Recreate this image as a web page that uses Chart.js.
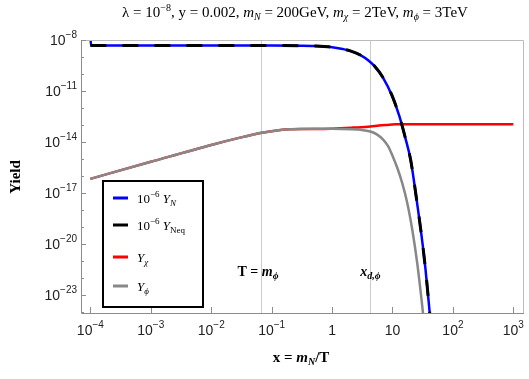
<!DOCTYPE html>
<html>
<head>
<meta charset="utf-8">
<script src="https://cdn.jsdelivr.net/npm/chart.js@4.4.1/dist/chart.umd.min.js"></script>
<style>
html, body { margin: 0; padding: 0; background: #fff; }
</style>
</head>
<body>
<canvas id="myChart" width="529" height="379"></canvas>
<script>
// 10^-6 Y_N (blue) and 10^-6 Y_Neq (black dashed)
var xN = [1e-4, 1.03e-4, 1e-3, 1e-2, 0.1, 0.3, 0.5, 1, 1.5, 2, 3, 4, 5, 7, 10, 13, 16, 20, 25, 30, 35, 40, 45];
var yN = [1.58e-8, 4.68e-9, 4.68e-9, 4.68e-9, 4.68e-9, 4.62e-9, 4.47e-9, 3.80e-9, 2.95e-9, 2.29e-9, 1.26e-9,
          6.31e-10, 3.02e-10, 6.03e-11, 4.68e-12, 3.31e-13, 2.29e-14, 8.91e-16, 4.47e-18, 3.98e-20, 3.98e-22, 3.16e-24, 3.16e-26];
var xNeq = [1e-4, 1e-3, 1e-2, 0.1, 0.3, 0.5, 1, 1.5, 2, 3, 4, 5, 7, 10, 13, 16, 20, 25, 30, 35, 40, 45];
var yNeq = [4.68e-9, 4.68e-9, 4.68e-9, 4.68e-9, 4.62e-9, 4.47e-9, 3.80e-9, 2.95e-9, 2.29e-9, 1.26e-9,
            6.31e-10, 3.02e-10, 6.03e-11, 4.68e-12, 3.31e-13, 2.29e-14, 8.91e-16, 4.47e-18, 3.98e-20, 3.98e-22, 3.16e-24, 3.16e-26];
// Y_chi (red)
var xChi = [1e-4, 1e-3, 1e-2, 0.03, 0.065, 0.1, 0.14, 0.2, 0.3, 0.64, 1, 2.2, 4.3, 6, 8.2, 11, 13.5, 20, 100, 1000];
var yChi = [6.92e-17, 6.92e-16, 6.76e-15, 1.82e-14, 3.39e-14, 4.37e-14, 5.13e-14, 5.62e-14, 5.89e-14, 5.89e-14,
            6.17e-14, 7.08e-14, 8.13e-14, 9.33e-14, 1.02e-13, 1.10e-13, 1.12e-13, 1.12e-13, 1.12e-13, 1.12e-13];
// Y_phi (gray)
var xPhi = [1e-4, 1e-3, 1e-2, 0.03, 0.065, 0.1, 0.14, 0.2, 0.3, 0.5, 1, 2, 3, 4.3, 5.5, 7, 8.5, 10, 12, 14.5, 17.6, 21.3, 25.7, 31, 35];
var yPhi = [6.92e-17, 6.92e-16, 6.76e-15, 1.82e-14, 3.39e-14, 4.37e-14, 5.13e-14, 5.62e-14, 5.89e-14, 6.03e-14,
            6.03e-14, 5.75e-14, 5.25e-14, 4.17e-14, 2.82e-14, 1.41e-14, 5.62e-15, 1.58e-15, 3.09e-16, 3.89e-17,
            2.57e-18, 6.76e-20, 7.41e-22, 2.51e-24, 3.98e-26];

// axis ticks (powers of ten) and marker lines
var xTickExps = [-4, -3, -2, -1, 0, 1, 2, 3];
var yTickExps = [-8, -11, -14, -17, -20, -23];
var yMinorExps = [-9, -10, -12, -13, -15, -16, -18, -19, -21, -22, -24];
var xMarkers = [200 / 3000, 4.3];

var SERIF = '"Liberation Serif", "Times New Roman", serif';
var SANS = '"Liberation Sans", Arial, sans-serif';

function pts(xs, ys) {
	return xs.map(function(x, i) { return { x: x, y: ys[i] }; });
}

// draw text made of pieces: [text, font, dy]
function rich(ctx, parts, x, y, align) {
	var w = 0;
	parts.forEach(function(p) { ctx.font = p[1]; w += ctx.measureText(p[0]).width; });
	var cx = align === 'center' ? x - w / 2 : (align === 'right' ? x - w : x);
	parts.forEach(function(p) {
		ctx.font = p[1];
		ctx.fillText(p[0], cx, y + (p[2] || 0));
		cx += ctx.measureText(p[0]).width;
	});
}

function powLabel(e) {
	if (e === 0) return [['1', '14px ' + SANS, 0]];
	if (e === 1) return [['10', '14px ' + SANS, 0]];
	return [['10', '14px ' + SANS, 0], [String(e).replace('-', '\u2212'), '10px ' + SANS, -7]];
}

var decor = {
	id: 'decor',
	beforeDatasetsDraw: function(chart) {
		var ctx = chart.ctx, a = chart.chartArea, xs = chart.scales.x;
		ctx.save();
		ctx.strokeStyle = '#cccccc';
		ctx.lineWidth = 1;
		xMarkers.forEach(function(v) {
			var px = Math.round(xs.getPixelForValue(v)) + 0.5;
			ctx.beginPath(); ctx.moveTo(px, a.top); ctx.lineTo(px, a.bottom); ctx.stroke();
		});
		ctx.restore();
	},
	afterDraw: function(chart) {
		var ctx = chart.ctx, a = chart.chartArea, xs = chart.scales.x, ys = chart.scales.y;
		ctx.save();
		// frame
		ctx.lineWidth = 1;
		ctx.strokeStyle = '#bbbbbb';
		ctx.beginPath();
		ctx.moveTo(a.left, a.top + 0.5); ctx.lineTo(a.right + 0.5, a.top + 0.5); ctx.lineTo(a.right + 0.5, a.bottom);
		ctx.stroke();
		ctx.strokeStyle = '#8c8c8c';
		ctx.beginPath();
		ctx.moveTo(a.left + 0.5, a.top); ctx.lineTo(a.left + 0.5, a.bottom + 0.5); ctx.lineTo(a.right + 1, a.bottom + 0.5);
		ctx.stroke();
		// ticks
		ctx.beginPath();
		xTickExps.forEach(function(e) {
			var px = Math.round(xs.getPixelForValue(Math.pow(10, e))) + 0.5;
			ctx.moveTo(px, a.bottom); ctx.lineTo(px, a.bottom - 6);
		});
		yTickExps.forEach(function(e) {
			var py = Math.round(ys.getPixelForValue(Math.pow(10, e))) + 0.5;
			ctx.moveTo(a.left, py); ctx.lineTo(a.left + 5, py);
		});
		yMinorExps.forEach(function(e) {
			var py = Math.round(ys.getPixelForValue(Math.pow(10, e))) + 0.5;
			ctx.moveTo(a.left, py); ctx.lineTo(a.left + 3, py);
		});
		ctx.stroke();

		// tick labels
		ctx.fillStyle = '#222';
		ctx.textBaseline = 'alphabetic';
		xTickExps.forEach(function(e) {
			rich(ctx, powLabel(e), xs.getPixelForValue(Math.pow(10, e)), a.bottom + 22, 'center');
		});
		yTickExps.forEach(function(e) {
			rich(ctx, powLabel(e), a.left - 4, ys.getPixelForValue(Math.pow(10, e)) + 5, 'right');
		});

		// title
		ctx.fillStyle = '#000';
		var R = '15px ' + SERIF, I = 'italic 15px ' + SERIF, S = '10px ' + SERIF, SI = 'italic 10px ' + SERIF;
		rich(ctx, [
			['\u03bb = 10', R], ['\u22128', S, -6], [', y = 0.002, ', R],
			['m', I], ['N', SI, 3], [' = 200GeV, ', R],
			['m', I], ['\u03c7', SI, 3], [' = 2TeV, ', R],
			['m', I], ['\u03d5', SI, 3], [' = 3TeV', R]
		], 295, 17, 'center');

		// axis titles
		var B = 'bold 15px ' + SERIF, BI = 'bold italic 15px ' + SERIF, BSI = 'bold italic 10px ' + SERIF;
		rich(ctx, [['x = ', B], ['m', BI], ['N', BSI, 3], ['/T', B]], 301, 362, 'center');
		ctx.save();
		ctx.translate(20, 177);
		ctx.rotate(-Math.PI / 2);
		rich(ctx, [['Yield', B]], 0, 0, 'center');
		ctx.restore();

		// annotations at the marker lines
		var AB = 'bold 14px ' + SERIF, ABI = 'bold italic 14px ' + SERIF, ASI = 'bold italic 10px ' + SERIF;
		var ay = ys.getPixelForValue(Math.pow(10, -21.9));
		rich(ctx, [['T = ', AB], ['m', ABI], ['\u03d5', ASI, 3]], xs.getPixelForValue(xMarkers[0]) - 3, ay, 'center');
		rich(ctx, [['x', ABI], ['d,\u03d5', ASI, 3]], xs.getPixelForValue(xMarkers[1]), ay, 'center');

		// legend
		var lx = 103, ly = 181, lw = 100, lh = 126;
		ctx.fillStyle = '#fff';
		ctx.fillRect(lx, ly, lw, lh);
		ctx.strokeStyle = '#000';
		ctx.lineWidth = 2;
		ctx.strokeRect(lx, ly, lw, lh);
		var rows = [
			{ c: '#0000ff', y: 198, t: [['10', '13px ' + SERIF], ['\u22126', '9px ' + SERIF, -6], [' Y', 'italic 13px ' + SERIF], ['N', 'italic 9px ' + SERIF, 3]] },
			{ c: '#000000', y: 225, t: [['10', '13px ' + SERIF], ['\u22126', '9px ' + SERIF, -6], [' Y', 'italic 13px ' + SERIF], ['Neq', '9px ' + SERIF, 3]] },
			{ c: '#ff0000', y: 257, t: [['Y', 'italic 13px ' + SERIF], ['\u03c7', 'italic 9px ' + SERIF, 3]] },
			{ c: '#888888', y: 286, t: [['Y', 'italic 13px ' + SERIF], ['\u03d5', 'italic 9px ' + SERIF, 3]] }
		];
		rows.forEach(function(r) {
			ctx.strokeStyle = r.c;
			ctx.lineWidth = 3;
			ctx.beginPath(); ctx.moveTo(113, r.y); ctx.lineTo(128, r.y); ctx.stroke();
			ctx.fillStyle = '#000';
			rich(ctx, r.t, 137, r.y + 5, 'left');
		});
		ctx.restore();
	}
};

var ctx = document.getElementById('myChart');

var myChart = new Chart(ctx, {
	type: 'line',
	data: {
		datasets: [
			{
				label: '10^-6 Y_Neq',
				data: pts(xNeq, yNeq),
				borderColor: '#000000',
				borderWidth: 3,
				borderDash: [16, 16],
				order: 0
			},
			{
				label: '10^-6 Y_N',
				data: pts(xN, yN),
				borderColor: '#0000ff',
				borderWidth: 2.5,
				order: 1
			},
			{
				label: 'Y_phi',
				data: pts(xPhi, yPhi),
				borderColor: '#888888',
				borderWidth: 2.5,
				order: 2
			},
			{
				label: 'Y_chi',
				data: pts(xChi, yChi),
				borderColor: '#ff0000',
				borderWidth: 2.5,
				order: 3
			}
		]
	},
	options: {
		responsive: false,
		animation: false,
		devicePixelRatio: 1,
		layout: { padding: { left: 81, top: 40, right: 6, bottom: 66 } },
		elements: {
			point: { radius: 0 },
			line: { cubicInterpolationMode: 'monotone', fill: false }
		},
		scales: {
			x: { type: 'logarithmic', display: false, min: Math.pow(10, -4.15), max: Math.pow(10, 3.16) },
			y: { type: 'logarithmic', display: false, min: Math.pow(10, -24.03), max: 1e-8 }
		},
		plugins: {
			legend: { display: false },
			tooltip: { enabled: false }
		}
	},
	plugins: [decor]
});
</script>
</body>
</html>
